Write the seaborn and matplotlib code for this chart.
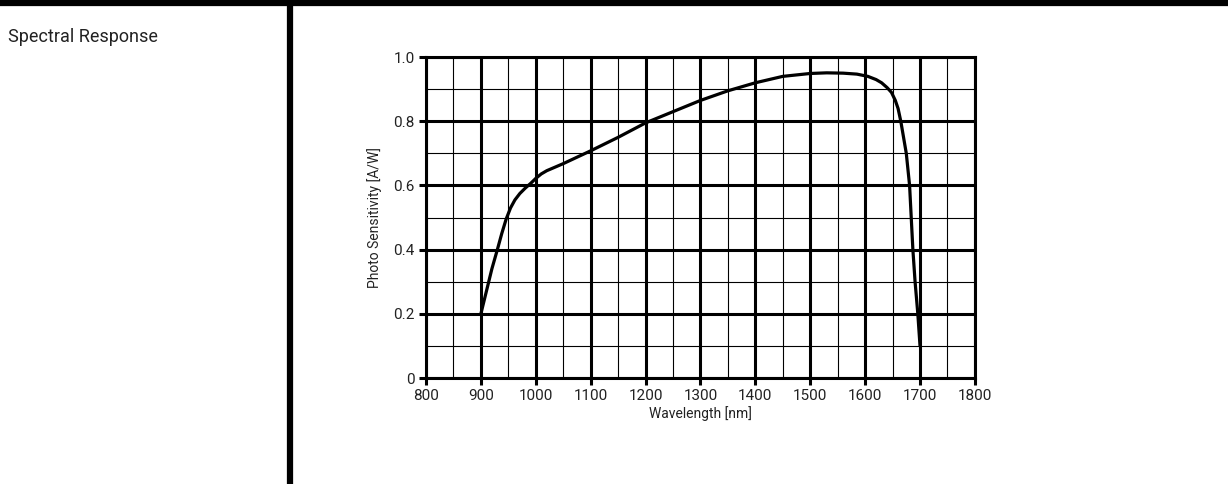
import matplotlib
matplotlib.use("Agg")
import matplotlib.pyplot as plt
from matplotlib.ticker import MultipleLocator, FixedLocator
from matplotlib.lines import Line2D
import seaborn as sns
import pandas as pd

# values
wavelength = [900, 910, 920, 930, 938, 946, 954, 962, 971, 981, 991, 1000, 1010,
              1020, 1035, 1050, 1075, 1100, 1150, 1200, 1250, 1300, 1350, 1400, 1450,
              1500, 1530, 1560, 1585, 1605, 1620, 1630, 1640, 1648, 1655, 1660, 1665,
              1670, 1675, 1681, 1684, 1687, 1691, 1696, 1700]
sensitivity = [0.20, 0.27, 0.34, 0.40, 0.45, 0.495, 0.53, 0.555, 0.575, 0.592, 0.607,
               0.622, 0.636, 0.646, 0.657, 0.668, 0.688, 0.708, 0.75, 0.795, 0.83, 0.865,
               0.895, 0.92, 0.94, 0.949, 0.951, 0.95, 0.947, 0.94, 0.93, 0.92, 0.905, 0.89,
               0.865, 0.84, 0.80, 0.75, 0.70, 0.60, 0.50, 0.40, 0.30, 0.20, 0.10]
x_ticks = [800, 900, 1000, 1100, 1200, 1300, 1400, 1500, 1600, 1700, 1800]
y_ticks = [0, 0.2, 0.4, 0.6, 0.8, 1.0]
y_tick_labels = ["0", "0.2", "0.4", "0.6", "0.8", "1.0"]

df = pd.DataFrame({"wavelength": wavelength, "sensitivity": sensitivity})

sns.set_style("white")
plt.rcParams['font.family'] = ['Roboto', 'DejaVu Sans']

fig = plt.figure(figsize=(12.28, 4.84), dpi=100)
ax = fig.add_axes([0.3469, 0.219, 0.447, 0.663])

sns.lineplot(data=df, x="wavelength", y="sensitivity", ax=ax, color="black", linewidth=2.3,
             sort=False, zorder=5)

ax.set_xlim(800, 1800)
ax.set_ylim(0, 1.0)
ax.xaxis.set_major_locator(FixedLocator(x_ticks))
ax.yaxis.set_major_locator(FixedLocator(y_ticks))
ax.set_yticklabels(y_tick_labels)
ax.xaxis.set_minor_locator(MultipleLocator(50))
ax.yaxis.set_minor_locator(MultipleLocator(0.1))

ax.grid(which="major", color="black", linewidth=2.2)
ax.grid(which="minor", color="black", linewidth=0.8)
for s in ax.spines.values():
    s.set_linewidth(2.2)
    s.set_color("black")

ax.tick_params(which="major", direction="out", length=5, width=2.2, colors="black",
               labelsize=11, labelcolor="#222222", pad=3, bottom=True, left=True)
ax.tick_params(which="minor", length=0)

ax.set_xlabel("Wavelength [nm]", fontsize=10, color="#222222", labelpad=2)
ax.set_ylabel("Photo Sensitivity [A/W]", fontsize=10, color="#222222", labelpad=8)

# frame lines of the datasheet layout
fig.add_artist(Line2D([0, 1], [1 - 3 / 484, 1 - 3 / 484], transform=fig.transFigure,
                      color="black", linewidth=4.5))
fig.add_artist(Line2D([290 / 1228, 290 / 1228], [0, 1], transform=fig.transFigure,
                      color="black", linewidth=4.5))

fig.text(8 / 1228, 1 - 37 / 484, "Spectral Response", fontsize=13, color="#222222",
         va="center", ha="left")

fig.savefig("out.png", dpi=100)
